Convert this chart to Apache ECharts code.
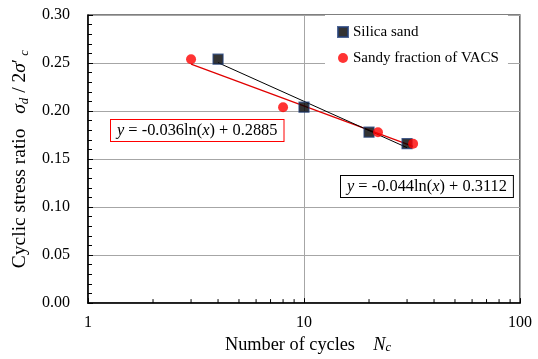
<!DOCTYPE html>
<html><head><meta charset="utf-8">
<script src="https://cdn.jsdelivr.net/npm/echarts@6/dist/echarts.min.js"></script>
<style>html,body{margin:0;padding:0;background:#fff}#c{width:538px;height:359px}</style>
</head><body><div id="c"></div>
<script>
// ---- data ----
const silicaX = [4, 10, 20, 30];
const silicaY = [0.254, 0.204, 0.178, 0.166];
const vacsX = [3, 8, 22, 32];
const vacsY = [0.254, 0.204, 0.178, 0.166];
const xMinorTicks = [2, 3, 4, 5, 6, 7, 8, 9, 20, 30, 40, 50, 60, 70, 80, 90];
const seriesNames = ['Silica sand', 'Sandy fraction of VACS'];
const eqVacs = '{i|y} = -0.036ln({i|x}) + 0.2885';
const eqSilica = '{i|y} = -0.044ln({i|x}) + 0.3112';

// least squares fit y = a ln(x) + b
function fit(xs, ys) {
  const lx = xs.map(Math.log);
  const n = xs.length;
  const mx = lx.reduce((s, v) => s + v, 0) / n;
  const my = ys.reduce((s, v) => s + v, 0) / n;
  let sxy = 0, sxx = 0;
  for (let i = 0; i < n; i++) { sxy += (lx[i] - mx) * (ys[i] - my); sxx += (lx[i] - mx) ** 2; }
  const a = sxy / sxx, b = my - a * mx;
  return { a, b };
}
function trend(xs, ys) {
  const f = fit(xs, ys);
  const x0 = Math.min(...xs), x1 = Math.max(...xs);
  return [[x0, f.a * Math.log(x0) + f.b], [x1, f.a * Math.log(x1) + f.b]];
}
const zip = (xs, ys) => xs.map((x, i) => [x, ys[i]]);

const SERIF = 'Liberation Serif';
const chart = echarts.init(document.getElementById('c'), null, { renderer: 'canvas' });
chart.setOption({
  animation: false,
  backgroundColor: '#fff',
  textStyle: { fontFamily: SERIF, color: '#000' },
  grid: { left: 88, right: 18, top: 15, bottom: 53, show: true, borderColor: '#000', borderWidth: 1.2, backgroundColor: 'transparent' },
  xAxis: {
    type: 'log', logBase: 10, min: 1, max: 100,
    name: 'Number of cycles    {i|N}{sub|c}',
    nameLocation: 'middle', nameGap: 29,
    nameTextStyle: { fontFamily: SERIF, fontSize: 18.3, color: '#000', padding: [0, 0, 0, 8],
      rich: { i: { fontStyle: 'italic', fontFamily: SERIF, fontSize: 18.3, color: '#000' },
              sub: { fontStyle: 'italic', fontFamily: SERIF, fontSize: 12.5, color: '#000', verticalAlign: 'bottom', lineHeight: 10 } } },
    axisLine: { lineStyle: { color: '#000', width: 1.5 } },
    axisTick: { show: true, inside: true, length: 5, lineStyle: { color: '#000' } },
    axisLabel: { fontFamily: SERIF, fontSize: 16, color: '#000', margin: 12 },
    splitLine: { show: true, lineStyle: { color: '#a6a6a6', width: 1 } }
  },
  yAxis: {
    type: 'value', min: 0, max: 0.3, interval: 0.05,
    name: 'Cyclic stress ratio   {i|σ}{sub|d}{n| / 2}{i|σ}{n|′}{sub| c}',
    nameLocation: 'middle', nameGap: 45, nameRotate: 90,
    nameTextStyle: { fontFamily: SERIF, fontSize: 19.5, color: '#000',
      rich: { i: { fontStyle: 'italic', fontFamily: SERIF, fontSize: 19.5, color: '#000', lineHeight: 22 },
              n: { fontFamily: SERIF, fontSize: 19.5, color: '#000', lineHeight: 22 },
              sub: { fontStyle: 'italic', fontFamily: SERIF, fontSize: 13, color: '#000', verticalAlign: 'bottom', lineHeight: 11 } } },
    axisLine: { show: true, lineStyle: { color: '#000', width: 1.5 } },
    axisTick: { show: true, inside: true, length: 5, lineStyle: { color: '#000' } },
    minorTick: { show: true, splitNumber: 5, length: 4, lineStyle: { color: '#000' } },
    axisLabel: { fontFamily: SERIF, fontSize: 16, color: '#000', margin: 18, formatter: v => v.toFixed(2) },
    splitLine: { show: true, lineStyle: { color: '#a6a6a6', width: 1 } }
  },
  legend: {
    data: seriesNames, orient: 'vertical', left: 325, top: 15,
    padding: [9, 9, 3, 12], itemGap: 10, itemWidth: 10, itemHeight: 10,
    backgroundColor: '#fff',
    textStyle: { fontFamily: SERIF, fontSize: 15, color: '#000', lineHeight: 16 }
  },
  graphic: [
    { type: 'text', left: 110, top: 119, z: 100,
      style: { text: eqVacs, fontFamily: SERIF, fontSize: 16.4, fill: '#000', backgroundColor: '#fff',
        borderColor: '#ff0000', borderWidth: 1, padding: [3, 6, 2, 6],
        rich: { i: { fontStyle: 'italic', fontFamily: SERIF, fontSize: 16.4 } } } },
    { type: 'text', left: 340, top: 175, z: 100,
      style: { text: eqSilica, fontFamily: SERIF, fontSize: 16.4, fill: '#000', backgroundColor: '#fff',
        borderColor: '#000', borderWidth: 1, padding: [3, 6, 2, 6],
        rich: { i: { fontStyle: 'italic', fontFamily: SERIF, fontSize: 16.4 } } } }
  ],
  series: [
    { type: 'custom', silent: true, z: 5, data: xMinorTicks.map(v => [v, 0]),
      renderItem: (params, api) => {
        const p = api.coord([api.value(0), 0]);
        return { type: 'line', shape: { x1: p[0], y1: p[1], x2: p[0], y2: p[1] - 4 }, style: { stroke: '#000', lineWidth: 1 } };
      } },
    { name: 'vacsTrend', type: 'line', data: trend(vacsX, vacsY), symbol: 'none', silent: true, z: 3,
      lineStyle: { color: '#e00000', width: 1.3 } },
    { name: 'silicaTrend', type: 'line', data: trend(silicaX, silicaY), symbol: 'none', silent: true, z: 3,
      lineStyle: { color: '#000', width: 1 } },
    { name: seriesNames[0], type: 'scatter', data: zip(silicaX, silicaY), symbol: 'rect', symbolSize: 10, z: 4,
      itemStyle: { color: '#000', borderColor: '#24417a', borderWidth: 1.2 } },
    { name: seriesNames[1], type: 'scatter', data: zip(vacsX, vacsY), symbol: 'circle', symbolSize: 10, z: 5,
      itemStyle: { color: '#ff0000' } }
  ]
});
</script></body></html>
